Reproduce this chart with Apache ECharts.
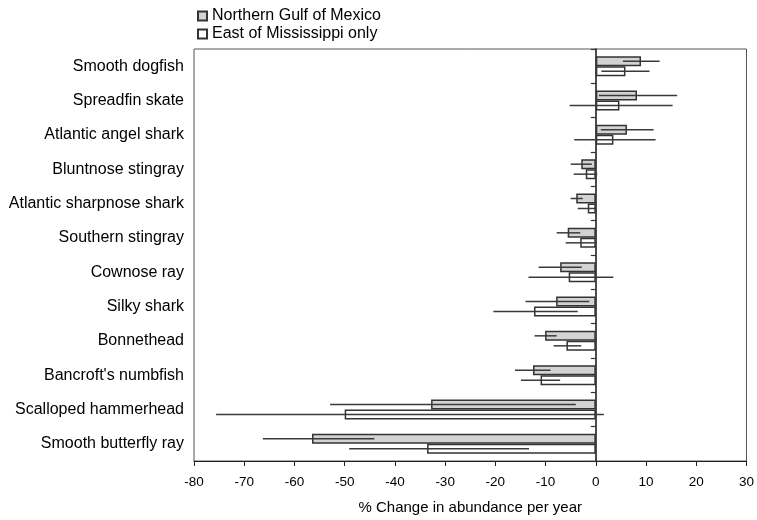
<!DOCTYPE html>
<html>
<head>
<meta charset="utf-8">
<script src="https://cdn.jsdelivr.net/npm/echarts@6/dist/echarts.min.js"></script>
<style>
  html, body { margin: 0; padding: 0; background: #fff; }
  #chart { width: 757px; height: 520px; }
</style>
</head>
<body>
<div id="chart"></div>
<script>
// Species, listed top to bottom
const species = [
  "Smooth dogfish", "Spreadfin skate", "Atlantic angel shark", "Bluntnose stingray",
  "Atlantic sharpnose shark", "Southern stingray", "Cownose ray", "Silky shark",
  "Bonnethead", "Bancroft's numbfish", "Scalloped hammerhead", "Smooth butterfly ray"
];

// Northern Gulf of Mexico: % change per year with interval bounds
const gulfValues = [9.0, 8.2, 6.2, -2.9, -3.9, -5.6, -7.1, -7.9, -10.1, -12.5, -32.8, -56.5];
const gulfLow    = [5.4, 0.6, 1.0, -5.0, -5.0, -7.8, -11.4, -14.0, -12.2, -16.1, -52.9, -66.3];
const gulfHigh   = [12.7, 16.2, 11.5, -0.8, -2.6, -3.1, -2.8, -1.3, -7.8, -9.0, -4.0, -44.1];

// East of Mississippi only
const eastValues = [5.9, 4.7, 3.5, -2.0, -1.6, -3.1, -5.4, -12.3, -5.85, -11.0, -50.0, -33.6];
const eastLow    = [1.1, -5.2, -4.3, -4.4, -3.6, -6.0, -13.4, -20.4, -8.4, -14.9, -75.6, -49.1];
const eastHigh   = [10.7, 15.3, 11.9, 0.3, -0.1, -0.2, 3.5, -3.6, -2.9, -7.1, 1.6, -13.3];

const xTicks = { min: -80, max: 30, interval: 10 };
const seriesNames = ["Northern Gulf of Mexico", "East of Mississippi only"];

const BAR_W = 10;
const FONT = "'Liberation Sans', Arial, Helvetica, sans-serif";

function errorItems(low, high) {
  return species.map((_, i) => [i, low[i], high[i]]);
}

// horizontal whisker through the middle of the matching bar
function errorRenderer(offset) {
  return function (params, api) {
    const cat = api.value(0);
    const a = api.coord([api.value(1), cat]);
    const b = api.coord([api.value(2), cat]);
    const y = a[1] + offset;
    return {
      type: 'line',
      shape: { x1: a[0], y1: y, x2: b[0], y2: y },
      style: { stroke: '#3a3a3a', lineWidth: 1.5 }
    };
  };
}

const chart = echarts.init(document.getElementById('chart'), null, { renderer: 'canvas' });

chart.setOption({
  animation: false,
  backgroundColor: '#fff',
  textStyle: { fontFamily: FONT, color: '#000' },
  legend: {
    data: seriesNames,
    orient: 'vertical',
    left: 192,
    top: 3,
    itemWidth: 9,
    itemHeight: 9,
    itemGap: 2,
    icon: 'rect',
    textStyle: { fontSize: 16, color: '#000', fontFamily: FONT }
  },
  grid: {
    left: 194, right: 8, top: 49, bottom: 55,
    show: true, borderColor: '#555', borderWidth: 1
  },
  xAxis: {
    type: 'value',
    min: xTicks.min, max: xTicks.max, interval: xTicks.interval,
    name: '% Change in abundance per year',
    nameLocation: 'middle',
    nameGap: 39,
    nameTextStyle: { fontSize: 15, color: '#000', fontFamily: FONT },
    axisLine: { show: true, onZero: false, lineStyle: { color: '#222', width: 1.2 } },
    axisTick: { show: true, length: 5, lineStyle: { color: '#222' } },
    axisLabel: { fontSize: 13.5, color: '#000', margin: 14, fontFamily: FONT },
    splitLine: { show: false }
  },
  yAxis: [
    {
      type: 'category',
      data: species,
      inverse: true,
      position: 'left',
      axisLine: { show: false, onZero: false },
      axisTick: { show: false },
      axisLabel: { fontSize: 16, color: '#000', margin: 10, fontFamily: FONT },
      splitLine: { show: false }
    },
    {
      type: 'category',
      data: species,
      inverse: true,
      position: 'left',
      axisLine: { show: true, onZero: true, lineStyle: { color: '#111', width: 1.5 } },
      axisTick: { show: true, length: 5, lineStyle: { color: '#333', width: 1.2 } },
      axisLabel: { show: false },
      splitLine: { show: false }
    }
  ],
  series: [
    {
      name: seriesNames[0],
      type: 'bar',
      data: gulfValues,
      barWidth: BAR_W,
      barGap: '0%',
      itemStyle: { color: '#d3d3d3', borderColor: '#333', borderWidth: 1.5 }
    },
    {
      name: seriesNames[1],
      type: 'bar',
      data: eastValues,
      barWidth: BAR_W,
      barGap: '0%',
      itemStyle: { color: '#ffffff', borderColor: '#333', borderWidth: 1.5 }
    },
    {
      name: 'gulfError',
      type: 'custom',
      data: errorItems(gulfLow, gulfHigh),
      encode: { x: [1, 2], y: 0 },
      renderItem: errorRenderer(-BAR_W / 2),
      z: 5
    },
    {
      name: 'eastError',
      type: 'custom',
      data: errorItems(eastLow, eastHigh),
      encode: { x: [1, 2], y: 0 },
      renderItem: errorRenderer(BAR_W / 2),
      z: 5
    }
  ]
});
</script>
</body>
</html>
